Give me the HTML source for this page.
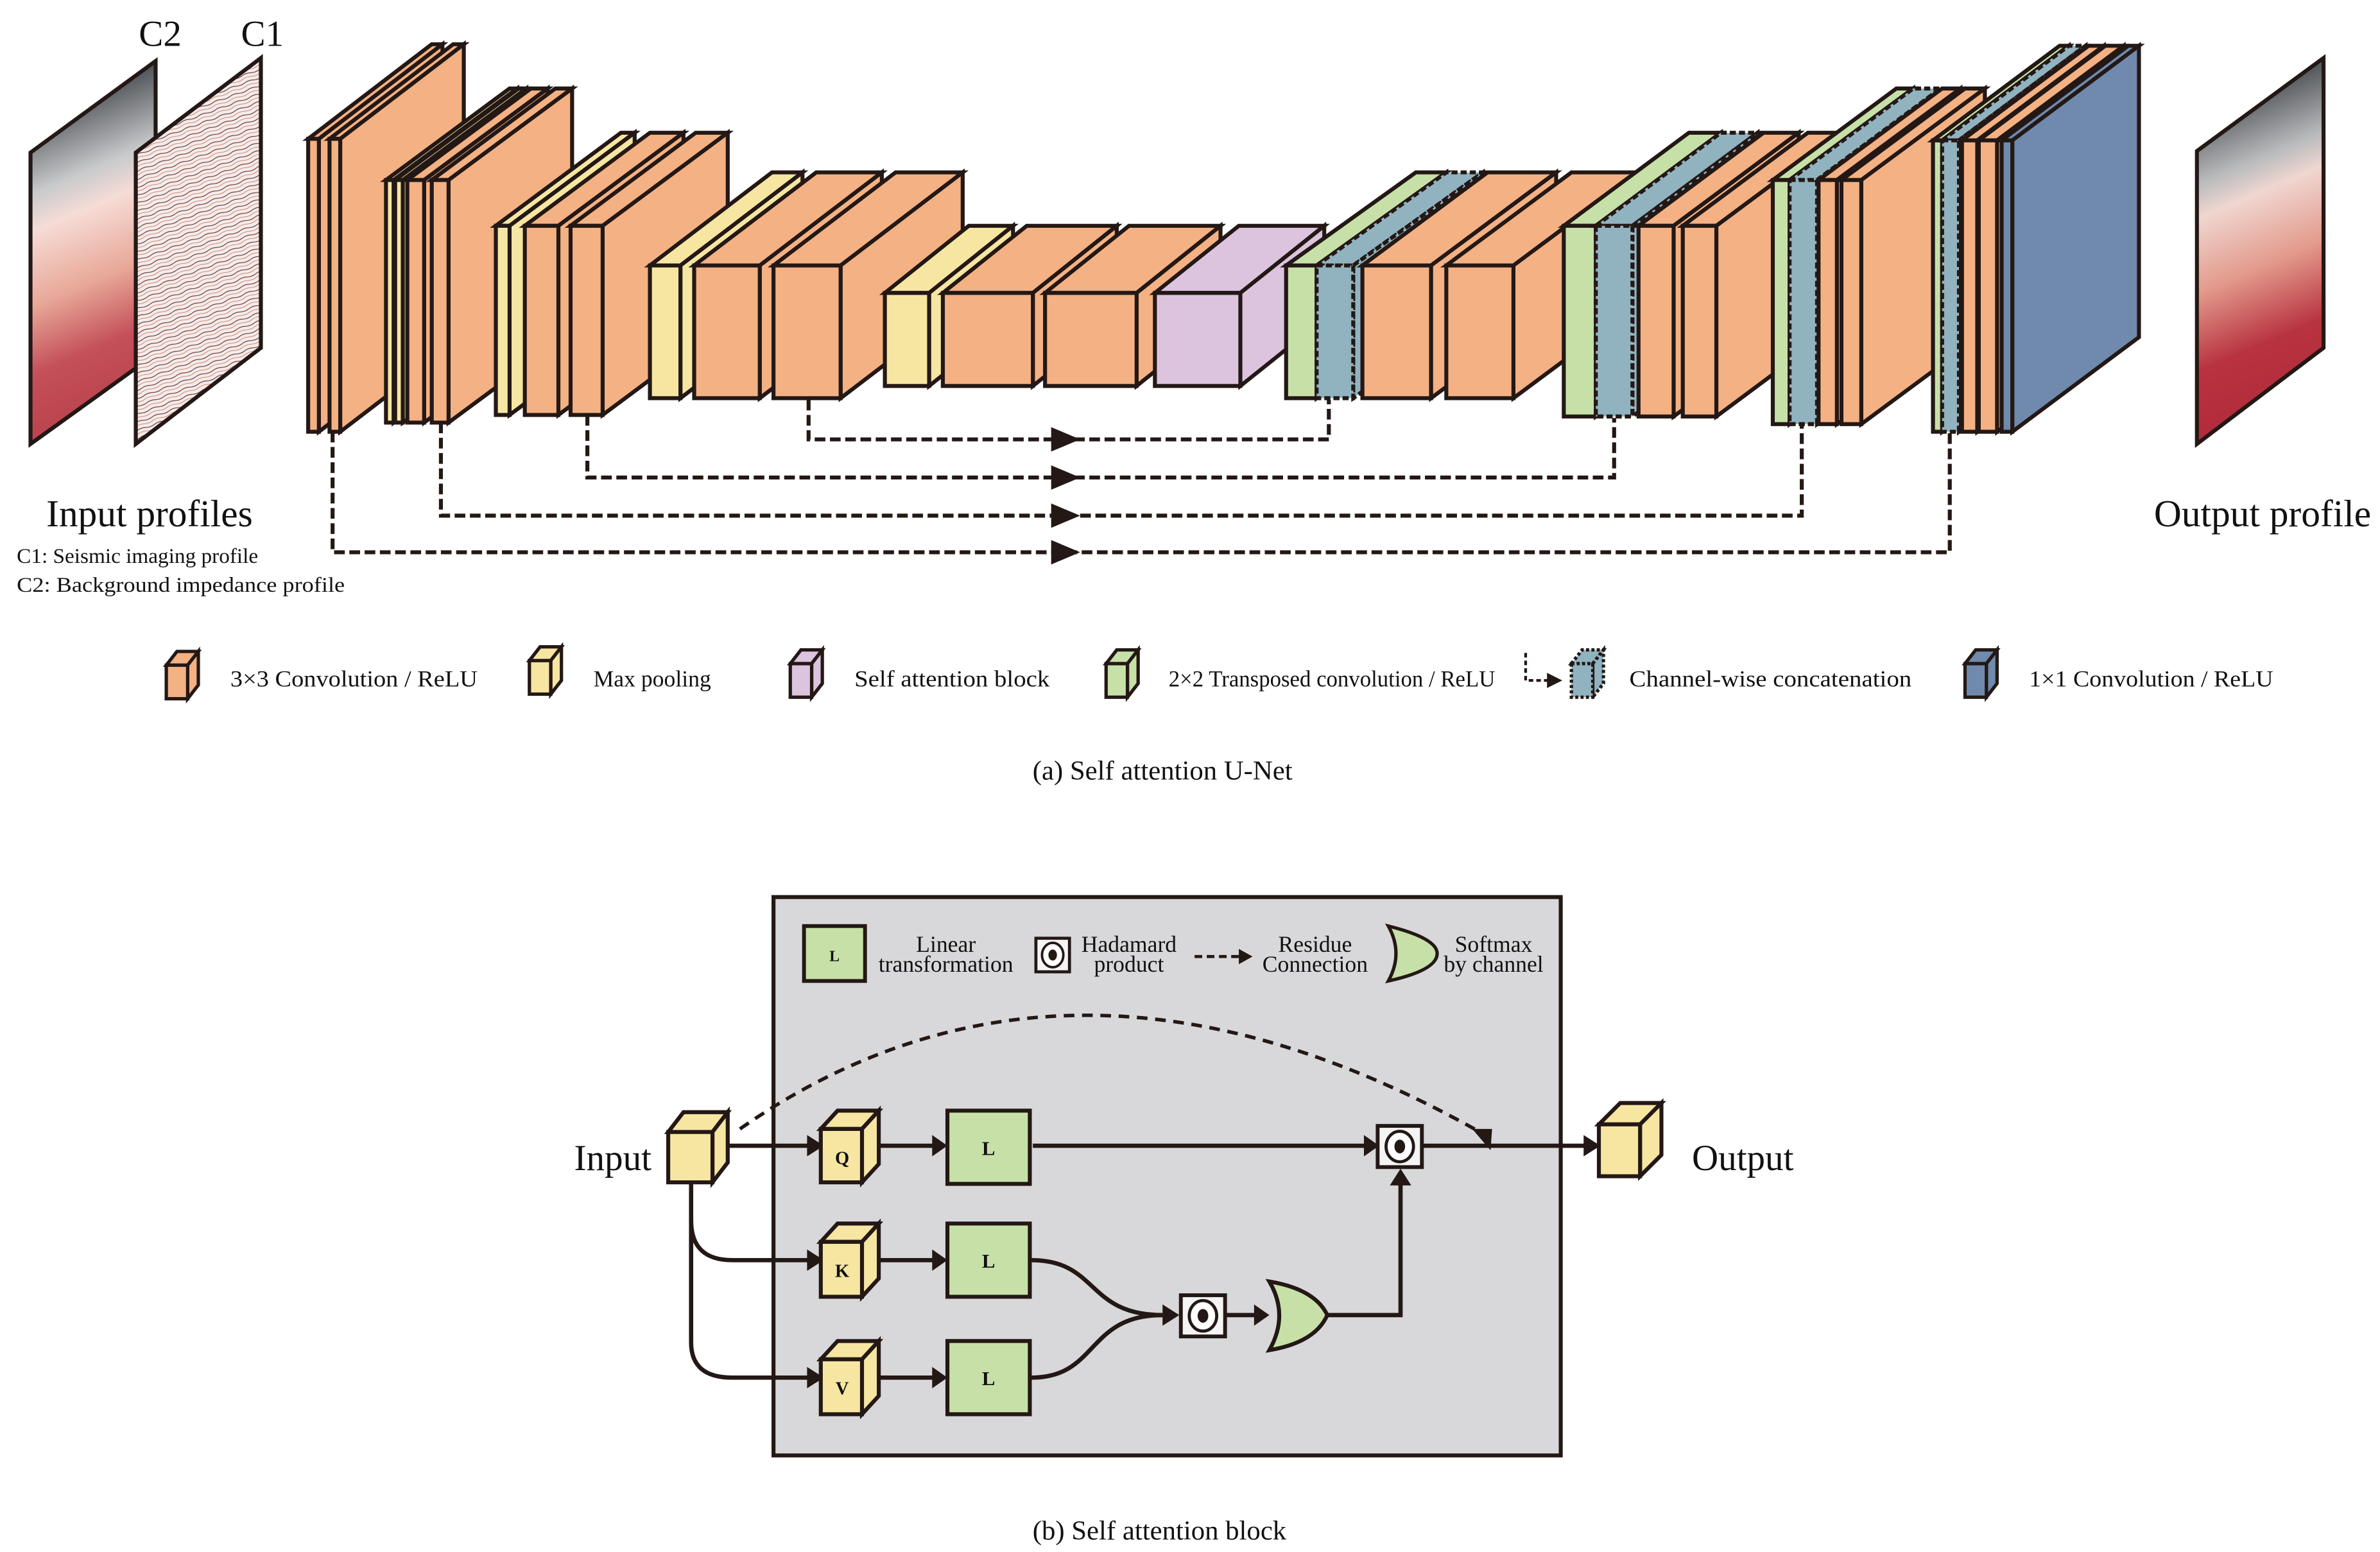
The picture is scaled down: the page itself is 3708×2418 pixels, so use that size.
<!DOCTYPE html>
<html><head><meta charset="utf-8"><style>
html,body{margin:0;padding:0;background:#fff;}
svg{display:block;}
text{font-family:"Liberation Serif",serif;fill:#111;}
</style></head><body>
<svg width="3708" height="2418" viewBox="0 0 1560 1017.3" preserveAspectRatio="none" xmlns="http://www.w3.org/2000/svg">
<defs>
<linearGradient id="gin" gradientUnits="userSpaceOnUse" x1="40" y1="70" x2="120" y2="260">
<stop offset="0" stop-color="#55585c"/><stop offset="0.22" stop-color="#c8cacc"/><stop offset="0.33" stop-color="#f6dcd6"/><stop offset="0.55" stop-color="#e8a898"/><stop offset="0.75" stop-color="#c4505a"/><stop offset="1" stop-color="#b8404a"/>
</linearGradient>
<linearGradient id="gout" gradientUnits="userSpaceOnUse" x1="1455" y1="70" x2="1535" y2="260">
<stop offset="0" stop-color="#55585c"/><stop offset="0.2" stop-color="#b9bbbd"/><stop offset="0.3" stop-color="#f0d6d0"/><stop offset="0.52" stop-color="#e39a8c"/><stop offset="0.75" stop-color="#b83240"/><stop offset="1" stop-color="#b02a3a"/>
</linearGradient>
<pattern id="seis" width="12" height="5" patternUnits="userSpaceOnUse" patternTransform="rotate(-20)">
<rect width="12" height="5" fill="#f3ecea"/>
<path d="M0,1 Q3,0 6,1 T12,1" stroke="#5a2a2a" stroke-width="0.45" fill="none"/>
<path d="M0,3.2 Q3,2.5 6,3.4 T12,3.2" stroke="#d9785f" stroke-width="0.4" fill="none"/>
</pattern>
</defs>

<!-- input profiles -->
<polygon points="20,100 102,40 102,232 20,291" fill="url(#gin)" stroke="#231815" stroke-width="2.6"/>
<polygon points="89,100 171,38 171,228 89,291" fill="url(#seis)" stroke="#231815" stroke-width="2.6"/>
<text x="105" y="30" font-size="24" text-anchor="middle">C2</text>
<text x="172" y="30" font-size="24" text-anchor="middle">C1</text>
<text x="98" y="345" font-size="25" text-anchor="middle">Input profiles</text>
<text x="11" y="369" font-size="14">C1: Seismic imaging profile</text>
<text x="11" y="388" font-size="14" textLength="215" lengthAdjust="spacingAndGlyphs">C2: Background impedance profile</text>

<!-- output -->
<polygon points="1440,99 1523,38 1523,228 1440,291" fill="url(#gout)" stroke="#231815" stroke-width="2.6"/>
<text x="1483" y="345" font-size="25" text-anchor="middle">Output profile</text>

<g stroke="#231815" stroke-width="2.6" stroke-linejoin="miter">
<g fill="#f4b183">
<polygon points="202,91 283,29 290,29 209,91"/><polygon points="209,91 290,29 290,221 209,283"/><rect x="202" y="91" width="7" height="192"/>
<polygon points="216,91 297,29 304,29 223,91"/><polygon points="223,91 304,29 304,221 223,283"/><rect x="216" y="91" width="7" height="192"/>
</g>
<g>
<g fill="#f6e6a2"><polygon points="253,118 334,58 339,58 258,118"/><polygon points="258,118 339,58 339,217 258,277"/><rect x="253" y="118" width="5" height="159"/>
<polygon points="259,118 340,58 345,58 264,118"/><polygon points="264,118 345,58 345,217 264,277"/><rect x="259" y="118" width="5" height="159"/></g>
<g fill="#f4b183"><polygon points="267,118 348,58 359,58 278,118"/><polygon points="278,118 359,58 359,217 278,277"/><rect x="267" y="118" width="11" height="159"/>
<polygon points="283,118 364,58 375,58 294,118"/><polygon points="294,118 375,58 375,217 294,277"/><rect x="283" y="118" width="11" height="159"/></g>
</g>
<g fill="#f6e6a2"><polygon points="325,148 407,87 416,87 334,148"/><polygon points="334,148 416,87 416,211 334,272"/><rect x="325" y="148" width="9" height="124"/></g>
<g fill="#f4b183"><polygon points="344,148 426,87 448,87 366,148"/><polygon points="366,148 448,87 448,211 366,272"/><rect x="344" y="148" width="22" height="124"/>
<polygon points="374,148 456,87 477,87 395,148"/><polygon points="395,148 477,87 477,211 395,272"/><rect x="374" y="148" width="21" height="124"/></g>
<g fill="#f6e6a2"><polygon points="426,174 506,113 526,113 446,174"/><polygon points="446,174 526,113 526,200 446,261"/><rect x="426" y="174" width="20" height="87"/></g>
<g fill="#f4b183"><polygon points="455,174 535,113 578,113 498,174"/><polygon points="498,174 578,113 578,200 498,261"/><rect x="455" y="174" width="43" height="87"/>
<polygon points="507,174 587,113 631,113 551,174"/><polygon points="551,174 631,113 631,200 551,261"/><rect x="507" y="174" width="44" height="87"/></g>
<g fill="#f6e6a2"><polygon points="580,192 635,148 664,148 609,192"/><polygon points="609,192 664,148 664,209 609,253"/><rect x="580" y="192" width="29" height="61"/></g>
<g fill="#f4b183"><polygon points="618,192 673,148 732,148 677,192"/><polygon points="677,192 732,148 732,209 677,253"/><rect x="618" y="192" width="59" height="61"/>
<polygon points="685,192 740,148 800,148 745,192"/><polygon points="745,192 800,148 800,209 745,253"/><rect x="685" y="192" width="60" height="61"/></g>
<g fill="#dcc3de"><polygon points="757,192 812,148 868,148 813,192"/><polygon points="813,192 868,148 868,209 813,253"/><rect x="757" y="192" width="56" height="61"/></g>
<g fill="#c7e0a8"><polygon points="843,174 928,113 948,113 863,174"/><polygon points="863,174 948,113 948,200 863,261"/><rect x="843" y="174" width="20" height="87"/></g>
<g fill="#91b3c0" stroke-dasharray="4 2"><polygon points="863,174 948,113 972,113 887,174"/><polygon points="887,174 972,113 972,200 887,261"/><rect x="863" y="174" width="24" height="87"/></g>
<g fill="#f4b183"><polygon points="893,174 975,113 1020,113 938,174"/><polygon points="938,174 1020,113 1020,200 938,261"/><rect x="893" y="174" width="45" height="87"/>
<polygon points="948,174 1030,113 1074,113 992,174"/><polygon points="992,174 1074,113 1074,200 992,261"/><rect x="948" y="174" width="44" height="87"/></g>
<g fill="#c7e0a8"><polygon points="1025,148 1107,87 1128,87 1046,148"/><polygon points="1046,148 1128,87 1128,212 1046,273"/><rect x="1025" y="148" width="21" height="125"/></g>
<g fill="#91b3c0" stroke-dasharray="4 2"><polygon points="1046,148 1128,87 1152,87 1070,148"/><polygon points="1070,148 1152,87 1152,212 1070,273"/><rect x="1046" y="148" width="24" height="125"/></g>
<g fill="#f4b183"><polygon points="1074,148 1156,87 1179,87 1097,148"/><polygon points="1097,148 1179,87 1179,212 1097,273"/><rect x="1074" y="148" width="23" height="125"/>
<polygon points="1103,148 1185,87 1207,87 1125,148"/><polygon points="1125,148 1207,87 1207,212 1125,273"/><rect x="1103" y="148" width="22" height="125"/></g>
<g fill="#c7e0a8"><polygon points="1162,118 1243,58 1254,58 1173,118"/><polygon points="1173,118 1254,58 1254,218 1173,278"/><rect x="1162" y="118" width="11" height="160"/></g>
<g fill="#91b3c0" stroke-dasharray="4 2"><polygon points="1173,118 1254,58 1272,58 1191,118"/><polygon points="1191,118 1272,58 1272,218 1191,278"/><rect x="1173" y="118" width="18" height="160"/></g>
<g fill="#f4b183"><polygon points="1192,118 1273,58 1285,58 1204,118"/><polygon points="1204,118 1285,58 1285,218 1204,278"/><rect x="1192" y="118" width="12" height="160"/>
<polygon points="1207,118 1288,58 1301,58 1220,118"/><polygon points="1220,118 1301,58 1301,218 1220,278"/><rect x="1207" y="118" width="13" height="160"/></g>
<g fill="#c7e0a8"><polygon points="1267,92 1350,30 1356,30 1273,92"/><polygon points="1273,92 1356,30 1356,221 1273,283"/><rect x="1267" y="92" width="6" height="191"/></g>
<g fill="#91b3c0" stroke-dasharray="4 2"><polygon points="1273,92 1356,30 1367,30 1284,92"/><polygon points="1284,92 1367,30 1367,221 1284,283"/><rect x="1273" y="92" width="11" height="191"/></g>
<g fill="#f4b183"><polygon points="1286,92 1369,30 1379,30 1296,92"/><polygon points="1296,92 1379,30 1379,221 1296,283"/><rect x="1286" y="92" width="10" height="191"/>
<polygon points="1297,92 1380,30 1392,30 1309,92"/><polygon points="1309,92 1392,30 1392,221 1309,283"/><rect x="1297" y="92" width="12" height="191"/></g>
<g fill="#6f8aad"><polygon points="1312,92 1395,30 1402,30 1319,92"/><polygon points="1319,92 1402,30 1402,221 1319,283"/><rect x="1312" y="92" width="7" height="191"/></g>
</g>

<g fill="none" stroke="#231815" stroke-width="2.6" stroke-dasharray="7 3">
<path d="M530,262 V288 H871 V262"/>
<path d="M385,272 V313 H1058 V274"/>
<path d="M289,277 V338 H1181 V279"/>
<path d="M218,283 V362 H1278 V284"/>
</g>
<g fill="#231815">
<polygon points="689,280 708,288 689,296"/>
<polygon points="689,305 708,313 689,321"/>
<polygon points="689,330 708,338 689,346"/>
<polygon points="689,354 708,362 689,370"/>
</g>

<g stroke="#231815" stroke-width="2.2">
<g fill="#f4b183"><polygon points="109,436 116,427 130,427 123,436"/><polygon points="123,436 130,427 130,449 123,458"/><rect x="109" y="436" width="14" height="22"/></g>
<g fill="#f6e6a2"><polygon points="347,433 354,424 368,424 361,433"/><polygon points="361,433 368,424 368,446 361,455"/><rect x="347" y="433" width="14" height="22"/></g>
<g fill="#dcc3de"><polygon points="518,435 525,426 539,426 532,435"/><polygon points="532,435 539,426 539,448 532,457"/><rect x="518" y="435" width="14" height="22"/></g>
<g fill="#c7e0a8"><polygon points="725,435 732,426 746,426 739,435"/><polygon points="739,435 746,426 746,448 739,457"/><rect x="725" y="435" width="14" height="22"/></g>
<g fill="#91b3c0" stroke-dasharray="2 1.5"><polygon points="1030,435 1037,426 1051,426 1044,435"/><polygon points="1044,435 1051,426 1051,448 1044,457"/><rect x="1030" y="435" width="14" height="22"/></g>
<g fill="#6f8aad"><polygon points="1288,435 1295,426 1309,426 1302,435"/><polygon points="1302,435 1309,426 1309,448 1302,457"/><rect x="1288" y="435" width="14" height="22"/></g>
</g>
<path d="M1000,428 V446 H1016" fill="none" stroke="#231815" stroke-width="1.8" stroke-dasharray="3 2"/>
<polygon points="1014,441 1024,446 1014,451" fill="#231815"/>
<g font-size="15">
<text x="151" y="450" textLength="162" lengthAdjust="spacingAndGlyphs">3×3 Convolution / ReLU</text>
<text x="389" y="450">Max pooling</text>
<text x="560" y="450" textLength="128" lengthAdjust="spacingAndGlyphs">Self attention block</text>
<text x="766" y="450" textLength="214" lengthAdjust="spacingAndGlyphs">2×2 Transposed convolution / ReLU</text>
<text x="1068" y="450" textLength="185" lengthAdjust="spacingAndGlyphs">Channel-wise concatenation</text>
<text x="1330" y="450" textLength="160" lengthAdjust="spacingAndGlyphs">1×1 Convolution / ReLU</text>
</g>
<text x="762" y="511" font-size="18" text-anchor="middle">(a) Self attention U-Net</text>

<rect x="507" y="588" width="516" height="366" fill="#d8d8da" stroke="#231815" stroke-width="2.6"/>
<rect x="527" y="607" width="40" height="36" fill="#c7e0a8" stroke="#231815" stroke-width="2.5"/>
<text x="547" y="630" font-size="10" font-weight="bold" text-anchor="middle">L</text>
<g font-size="15" text-anchor="middle">
<text x="620" y="624">Linear</text><text x="620" y="637">transformation</text>
<text x="740" y="624">Hadamard</text><text x="740" y="637">product</text>
<text x="862" y="624">Residue</text><text x="862" y="637">Connection</text>
<text x="979" y="624">Softmax</text><text x="979" y="637">by channel</text>
</g>
<rect x="679" y="615" width="22" height="22" fill="#f4f4f4" stroke="#231815" stroke-width="2"/>
<ellipse cx="690" cy="626" rx="7" ry="8" fill="#fff" stroke="#231815" stroke-width="1.6"/>
<ellipse cx="690" cy="626" rx="2.8" ry="3.6" fill="#231815"/>
<path d="M783,627 H812" stroke="#231815" stroke-width="2" stroke-dasharray="5 3"/>
<polygon points="812,622 821,627 812,632" fill="#231815"/>
<path d="M910,607 Q942,615 942,625 Q942,636 910,643 Q920,625 910,607 Z" fill="#c7e0a8" stroke="#231815" stroke-width="2.2"/>

<g fill="none" stroke="#231815" stroke-width="2.8">
<path d="M472,751 H530"/>
<path d="M576,751 H612"/>
<path d="M677,751 H895"/>
<path d="M932,751 H1039"/>
<path d="M453,775 V800 Q453,826 480,826 H530"/>
<path d="M453,800 V880 Q453,903 480,903 H530"/>
<path d="M576,826 H612"/>
<path d="M576,903 H612"/>
<path d="M676,826 C720,826 712,862 762,862"/>
<path d="M676,903 C720,903 712,862 762,862"/>
<path d="M804,862 H823"/>
<path d="M868,862 H918 V776"/>
</g>
<path d="M485,740 Q700,590 970,742" fill="none" stroke="#231815" stroke-width="2.3" stroke-dasharray="7 5"/>
<polygon points="965,740 978,740 977,754" fill="#231815"/>
<g fill="#231815">
<polygon points="529,744 540,751 529,758"/>
<polygon points="611,744 621,751 611,758"/>
<polygon points="894,744 904,751 894,758"/>
<polygon points="1038,744 1049,751 1038,758"/>
<polygon points="529,819 540,826 529,833"/>
<polygon points="529,896 540,903 529,910"/>
<polygon points="611,819 621,826 611,833"/>
<polygon points="611,896 621,903 611,910"/>
<polygon points="762,855 773,862 762,869"/>
<polygon points="822,855 832,862 822,869"/>
<polygon points="911,777 918,766 925,777"/>
</g>
<g stroke="#231815" stroke-width="2.6" fill="#f6e6a2">
<polygon points="438,742 448,729 477,729 467,742"/><polygon points="467,742 477,729 477,762 467,775"/><rect x="438" y="742" width="29" height="33"/>
<polygon points="538,740 549,728 576,728 565,740"/><polygon points="565,740 576,728 576,763 565,775"/><rect x="538" y="740" width="27" height="35"/>
<polygon points="538,814 549,802 576,802 565,814"/><polygon points="565,814 576,802 576,838 565,850"/><rect x="538" y="814" width="27" height="36"/>
<polygon points="538,891 549,879 576,879 565,891"/><polygon points="565,891 576,879 576,915 565,927"/><rect x="538" y="891" width="27" height="36"/>
<polygon points="1048,737 1062,723 1089,723 1075,737"/><polygon points="1075,737 1089,723 1089,757 1075,771"/><rect x="1048" y="737" width="27" height="34"/>
</g>
<g font-size="12" font-weight="bold" text-anchor="middle">
<text x="552" y="763">Q</text><text x="552" y="837">K</text><text x="552" y="914">V</text>
</g>
<g fill="#c7e0a8" stroke="#231815" stroke-width="2.6">
<rect x="621" y="728" width="54" height="48"/>
<rect x="621" y="802" width="54" height="48"/>
<rect x="621" y="879" width="54" height="48"/>
</g>
<g font-size="13" font-weight="bold" text-anchor="middle">
<text x="648" y="757">L</text><text x="648" y="831">L</text><text x="648" y="908">L</text>
</g>
<rect x="903" y="738" width="29" height="27" fill="#f4f4f4" stroke="#231815" stroke-width="2.5"/>
<ellipse cx="917.5" cy="751.5" rx="9" ry="10" fill="#fff" stroke="#231815" stroke-width="2"/>
<ellipse cx="917.5" cy="751.5" rx="3.5" ry="4.5" fill="#231815"/>
<rect x="774" y="849" width="29" height="27" fill="#f4f4f4" stroke="#231815" stroke-width="2.5"/>
<ellipse cx="788.5" cy="862.5" rx="9" ry="10" fill="#fff" stroke="#231815" stroke-width="2"/>
<ellipse cx="788.5" cy="862.5" rx="3.5" ry="4.5" fill="#231815"/>
<path d="M832,840 Q862,845 870,862 Q862,880 832,885 Q845,862 832,840 Z" fill="#c7e0a8" stroke="#231815" stroke-width="2.6"/>

<text x="427" y="767" font-size="24" text-anchor="end">Input</text>
<text x="1109" y="767" font-size="24">Output</text>
<text x="760" y="1009" font-size="18" text-anchor="middle">(b) Self attention block</text>
</svg>
</body></html>
